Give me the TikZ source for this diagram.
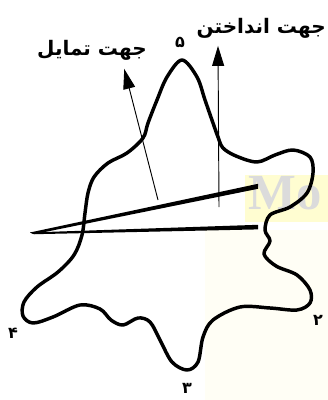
\documentclass[tikz,border=0pt]{standalone}
\usepackage{fontspec}
\usetikzlibrary{arrows.meta}
\TeXXeTstate=1
\newfontfamily\arabicfont[Script=Arabic]{DejaVu Sans}
\newfontfamily\wmfont{Liberation Serif}
\begin{document}
\begin{tikzpicture}[x=0.75pt,y=-0.75pt,
  outline/.style={line width=2.6pt,line join=round},
  dirarrow/.style={line width=0.7pt,-{Triangle[length=15pt,width=9pt]}},
  lbl/.style={font=\arabicfont\bfseries\fontsize{15}{17}\selectfont,inner sep=0pt},
  num/.style={font=\arabicfont\bfseries\fontsize{12}{13}\selectfont,inner sep=0pt},
  wedge/.style={fill=black}]
\useasboundingbox (0,0) rectangle (328,400);
\fill[yellow!4!white] (205,230) rectangle (328,400);
\fill[yellow!18!white] (245,175) rectangle (328,222);
\node[anchor=base west,inner sep=0pt,text=gray!28,font=\wmfont\bfseries\fontsize{38}{38}\selectfont] (wm) at (248,209) {Mo};
% outline
\draw[outline] plot[smooth cycle,tension=0.55] coordinates {
 (182,60) (197,77) (205,100) (213,123) (218,137) (223,148) (236,156) (257,162)
 (275,155) (293,150) (310,157) (313,173) (307,193) (290,207) (270,215)
 (265,230) (270,241) (264,254) (276,266) (297,275) (310,290) (310,303)
 (297,310) (270,308) (240,307) (213,320) (203,337) (198,362) (187,370)
 (172,362) (160,340) (150,322) (138,318) (123,325) (111,320) (100,309)
 (80,305) (53,317) (33,323) (23,316) (24,302) (37,287) (58,272)
 (74,255) (82,235) (85,213) (88,193) (94,177) (108,163) (127,153)
 (143,138) (148,123) (157,100) (167,77) };
% wedge lines
\coordinate (tipL) at (30,232.5);
\fill[wedge] (tipL) -- (258,183.8) -- (258,188.8) -- (34,234.2) -- cycle;
\fill[wedge] (tipL) -- (258,224.8) -- (258,229.4) -- (34,234.2) -- cycle;
% arrows
\coordinate (baseV) at (219,207);
\coordinate (baseT) at (158,200);
\node[inner sep=0pt] (tipV) at (218,45) {};
\node[inner sep=0pt] (tipT) at (124,68) {};
\draw[dirarrow] (baseV) -- (tipV);
\draw[dirarrow] (baseT) -- (tipT);
% labels
\node[lbl,anchor=east] (andakhtan) at (326,28) {\beginR جهت انداختن\endR};
\node[lbl] (tamayol) at (92,50) {\beginR جهت تمایل\endR};
\node[num] (n5) at (180,42) {۵};
\node[num] (n4) at (13,333) {۴};
\node[num] (n2) at (318,320) {۲};
\node[num] (n3) at (187,388) {۳};
\end{tikzpicture}
\end{document}
